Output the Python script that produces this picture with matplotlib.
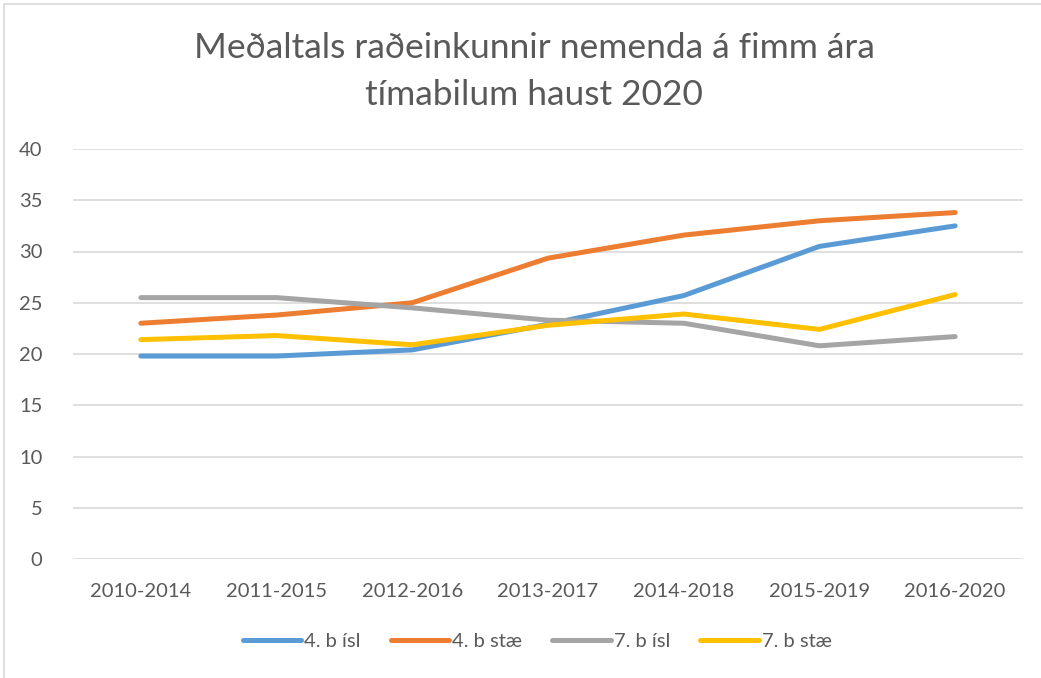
import matplotlib
matplotlib.use("Agg")
import matplotlib.pyplot as plt
from matplotlib.patches import Rectangle

# Data
periods = ["2010-2014", "2011-2015", "2012-2016", "2013-2017",
           "2014-2018", "2015-2019", "2016-2020"]
isl_4 = [19.8, 19.8, 20.4, 22.9, 25.7, 30.5, 32.5]
stae_4 = [23.0, 23.8, 25.0, 29.35, 31.6, 33.0, 33.8]
isl_7 = [25.5, 25.5, 24.5, 23.3, 23.0, 20.8, 21.7]
stae_7 = [21.4, 21.8, 20.9, 22.8, 23.9, 22.4, 25.8]
series_names = ["4. b ísl", "4. b stæ", "7. b ísl", "7. b stæ"]
yticks = [0, 5, 10, 15, 20, 25, 30, 35, 40]
title_lines = ["Meðaltals raðeinkunnir nemenda á fimm ára", "tímabilum haust 2020"]

colors = ["#5B9BD5", "#ED7D31", "#A5A5A5", "#FFC000"]
text_col = "#595959"
plt.rcParams["font.family"] = ["Lato", "DejaVu Sans"]

fig = plt.figure(figsize=(10.41, 6.78), dpi=100)
ax = fig.add_axes([73 / 1041, 1 - 559 / 678, 950 / 1041, 410 / 678])

x = list(range(len(periods)))
for vals, c, name in zip([isl_4, stae_4, isl_7, stae_7], colors, series_names):
    ax.plot(x, vals, color=c, lw=3.6, solid_capstyle="round",
            solid_joinstyle="round", label=name)

ax.set_xlim(-0.5, len(periods) - 0.5)
ax.set_ylim(0, 40)
ax.set_yticks(yticks)
ax.set_xticks(x)
ax.set_xticklabels(periods)
ax.grid(axis="y", color="#D9D9D9", lw=1.2)
ax.set_axisbelow(True)
for s in ax.spines.values():
    s.set_visible(False)
ax.tick_params(length=0, colors=text_col, labelsize=14.5)
ax.tick_params(axis="x", pad=17)
ax.tick_params(axis="y", pad=22)

for line, ypix in zip(title_lines, [48, 95]):
    fig.text(0.513, 1 - ypix / 678, line, ha="center", va="center",
             fontsize=25.5, color=text_col)

fig.legend(loc="center", bbox_to_anchor=(0.516, 1 - 641 / 678), ncol=4,
           frameon=False, fontsize=14.5, handlelength=2.9, columnspacing=1.5,
           handletextpad=0.15, labelcolor=text_col)

# outer chart border
fig.patches.append(Rectangle((4 / 1041, -0.05), 1.2, 1.05 - 4 / 678,
                             transform=fig.transFigure, fill=False,
                             edgecolor="#D9D9D9", lw=1.2))

fig.savefig("out.png", dpi=100)
